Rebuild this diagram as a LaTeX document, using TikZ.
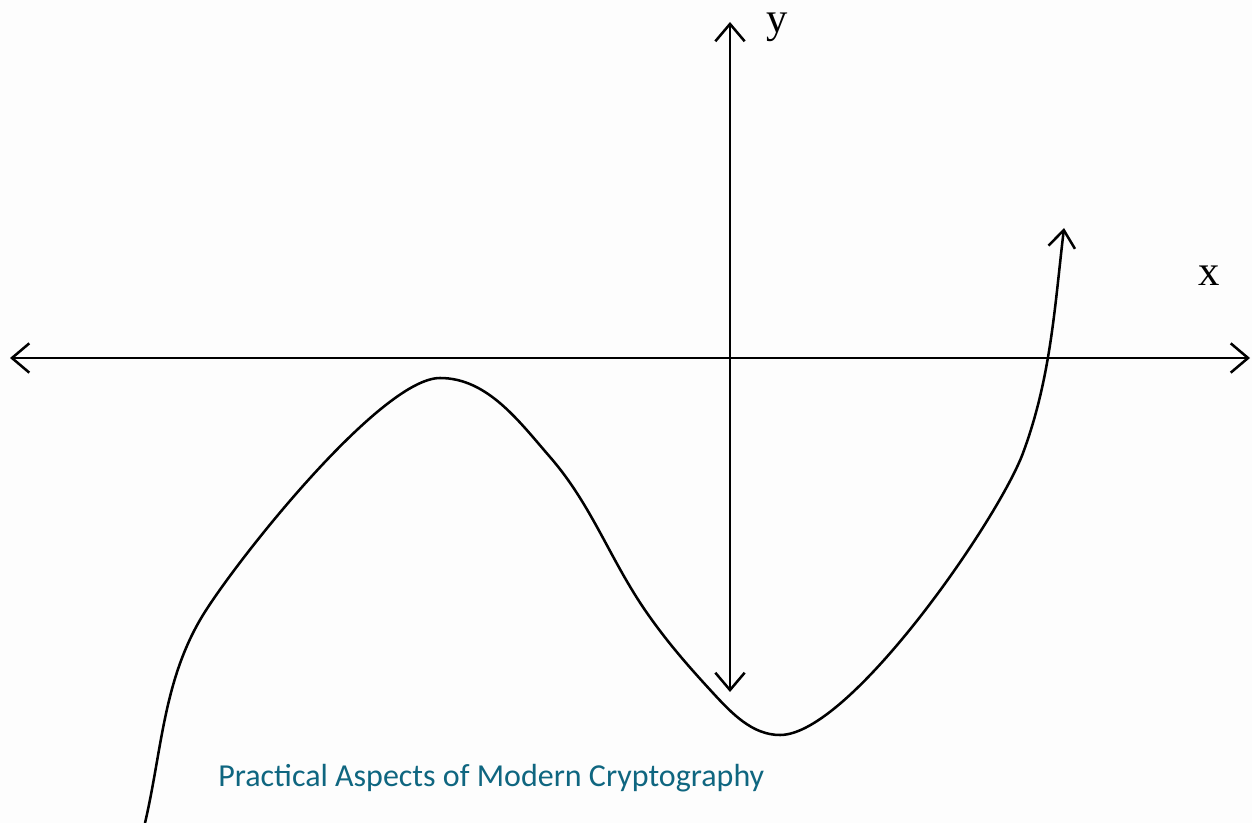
\documentclass[tikz,border=0pt]{standalone}
\usepackage{fontspec}
\setmainfont{Liberation Serif}
\newfontfamily\calib{Carlito}
\usetikzlibrary{arrows.meta}
\definecolor{teal1}{HTML}{0F6680}
\definecolor{bgc}{HTML}{FDFDFD}
\tikzset{
  axis/.style={line width=1.9pt, black, {Straight Barb[length=13pt,width=22pt,line width=1.9pt]}-{Straight Barb[length=13pt,width=22pt,line width=1.9pt]}},
  curve/.style={line width=1.9pt, black, -{Straight Barb[length=13pt,width=20pt,line width=1.9pt]}},
  axlabel/.style={font=\fontsize{32}{36}\selectfont, inner sep=0pt, anchor=base},
  footer/.style={font=\calib\fontsize{24}{28}\selectfont, text=teal1, inner sep=0pt, anchor=base west}
}
\begin{document}
\begin{tikzpicture}[x=0.75pt,y=-0.75pt]
\useasboundingbox (0,0) rectangle (1252,823);
\fill[bgc] (0,0) rectangle (1252,823);
\coordinate (xl) at (10,358);
\coordinate (xr) at (1250,358);
\coordinate (yt) at (730,22);
\coordinate (yb) at (730,692);
\draw[axis] (xl) -- (xr);
\draw[axis] (yt) -- (yb);
\node[axlabel] (ylab) at (777,33) {y};
\node[axlabel] (xlab) at (1209,286) {x};
\coordinate (cA) at (145,823);
\coordinate (cB) at (200,620);
\coordinate (cD) at (440,378);
\coordinate (cE) at (550,457);
\coordinate (cF) at (647,613);
\coordinate (cK) at (713,693);
\coordinate (cG) at (780,735);
\coordinate (cI) at (1023,453);
\coordinate (cJ) at (1064,228);
\draw[curve] (cA)
 .. controls (161.7,751.3) and (163.2,683.7) .. (cB)
 .. controls (230,568) and (380,378) .. (cD)
 .. controls (487.4,378) and (518.9,421.2) .. (cE)
 .. controls (592.2,505.5) and (610.2,560.3) .. (cF)
 .. controls (667.8,642.8) and (688.4,666.3) .. (cK)
 .. controls (731.8,713.4) and (752.3,735) .. (cG)
 .. controls (850,735) and (998.7,518.7) .. (cI)
 .. controls (1050.8,378) and (1054.6,307.4) .. (cJ);
\node[footer] (foot) at (218,786) {Practical Aspects of Modern Cryptography};
\end{tikzpicture}
\end{document}
